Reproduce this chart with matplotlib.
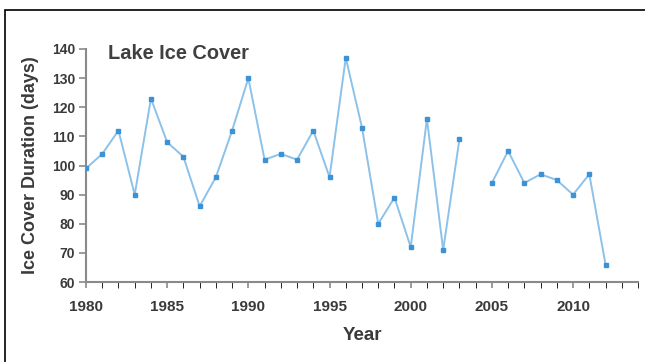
import numpy as np
import matplotlib
matplotlib.use('Agg')
import matplotlib.pyplot as plt
from matplotlib.patches import Rectangle

# DATA
years = list(range(1980, 2013))
ice_days = [99, 104, 112, 90, 123, 108, 103, 86, 96, 112,
            130, 102, 104, 102, 112, 96, 137, 113, 80, 89,
            72, 116, 71, 109, None, 94, 105, 94, 97, 95,
            90, 97, 66]
yticks = [60, 70, 80, 90, 100, 110, 120, 130, 140]
xlabels = [1980, 1985, 1990, 1995, 2000, 2005, 2010]

plt.rcParams['font.family'] = ['Liberation Sans', 'DejaVu Sans']
txt = '#3a3a3a'
axcol = '#8a8a8a'

fig = plt.figure(figsize=(6.45, 3.62), dpi=100)
ax = fig.add_axes([86 / 645, 1 - 282 / 362, (638 - 86) / 645, (282 - 49) / 362])

vals = np.array([np.nan if v is None else v for v in ice_days], dtype=float)
ax.plot(years, vals, color='#8cc2ea', lw=1.4, zorder=2)
ax.plot(years, vals, ls='none', marker='s', ms=3.2, color='#3d92d6', zorder=3)

ax.set_xlim(1980, 2014)
ax.set_ylim(60, 140)
ax.set_yticks(yticks)
ax.set_xticks(xlabels)
ax.set_xticks(range(1980, 2015), minor=True)
for lab in ax.get_xticklabels() + ax.get_yticklabels():
    lab.set_fontweight('bold')

ax.tick_params(axis='both', colors=axcol, labelcolor=txt, width=1.2)
ax.tick_params(axis='x', which='both', length=4, pad=9, labelsize=11)
ax.tick_params(axis='y', length=5, pad=3, labelsize=10)

for s in ['top', 'right']:
    ax.spines[s].set_visible(False)
for s in ['left', 'bottom']:
    ax.spines[s].set_color(axcol)
    ax.spines[s].set_linewidth(1.5)

ax.set_xlabel('Year', fontsize=13.5, fontweight='bold', color=txt, labelpad=9)
ax.set_ylabel('Ice Cover Duration (days)', fontsize=13, fontweight='bold', color=txt, labelpad=9)

ax.text(0.04, 1.02, 'Lake Ice Cover', transform=ax.transAxes, fontsize=14.4,
        fontweight='bold', color='#404040', va='top', ha='left')

# frame around the figure
fig.patches.append(Rectangle((5 / 645, -0.1), 1.2, (362 - 10) / 362 + 0.1,
                             transform=fig.transFigure, fill=False,
                             edgecolor='black', lw=1.2))

fig.savefig('out.png', dpi=100)
